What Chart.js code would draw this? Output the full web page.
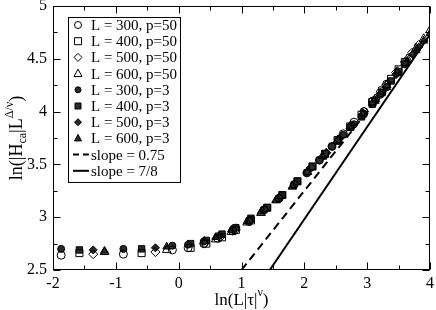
<!DOCTYPE html>
<html>
<head>
<meta charset="utf-8">
<script src="https://cdn.jsdelivr.net/npm/chart.js@4.4.0/dist/chart.umd.min.js"></script>
<style>
  html, body { margin: 0; padding: 0; background: #fff; }
</style>
</head>
<body>
<canvas id="scaling" width="436" height="310"></canvas>
<script>
// x = ln(L|tau|^nu) for each system size (same tau grid for both p)
const xL300 = [-1.87, -0.88, -0.10, 0.15, 0.40, 0.62, 0.86, 1.12, 1.36, 1.60, 1.84, 2.04, 2.24, 2.44, 2.62, 2.79, 2.95, 3.09, 3.21, 3.31];
const xL400 = [-1.58, -0.59, 0.19, 0.44, 0.69, 0.91, 1.15, 1.41, 1.65, 1.89, 2.13, 2.33, 2.53, 2.73, 2.91, 3.08, 3.24, 3.38, 3.50, 3.60];
const xL500 = [-1.36, -0.37, 0.41, 0.66, 0.91, 1.13, 1.37, 1.63, 1.87, 2.11, 2.35, 2.55, 2.75, 2.95, 3.13, 3.30, 3.46, 3.60, 3.72, 3.82];
const xL600 = [-1.18, -0.19, 0.59, 0.84, 1.09, 1.31, 1.55, 1.81, 2.05, 2.29, 2.53, 2.73, 2.93, 3.13, 3.31, 3.48, 3.64, 3.78, 3.90, 4.00];

// y = ln(|H_ca| L^(Delta/nu))
const yL300p50 = [2.64, 2.65, 2.69, 2.71, 2.75, 2.80, 2.87, 2.96, 3.07, 3.18, 3.31, 3.42, 3.54, 3.67, 3.79, 3.90, 4.00, 4.10, 4.18, 4.26];
const yL400p50 = [2.66, 2.66, 2.71, 2.75, 2.81, 2.88, 2.97, 3.09, 3.21, 3.34, 3.48, 3.60, 3.73, 3.86, 3.97, 4.09, 4.20, 4.31, 4.40, 4.47];
const yL500p50 = [2.65, 2.67, 2.75, 2.81, 2.88, 2.96, 3.07, 3.20, 3.33, 3.47, 3.61, 3.74, 3.87, 4.00, 4.12, 4.25, 4.37, 4.47, 4.56, 4.63];
const yL600p50 = [2.67, 2.69, 2.79, 2.86, 2.95, 3.04, 3.16, 3.29, 3.43, 3.58, 3.73, 3.86, 3.98, 4.12, 4.25, 4.38, 4.50, 4.60, 4.69, 4.77];
const yL300p3 = [2.70, 2.70, 2.73, 2.74, 2.77, 2.82, 2.88, 2.97, 3.07, 3.18, 3.31, 3.42, 3.54, 3.67, 3.78, 3.88, 3.98, 4.07, 4.16, 4.23];
const yL400p3 = [2.69, 2.70, 2.75, 2.78, 2.84, 2.90, 2.99, 3.09, 3.21, 3.34, 3.48, 3.60, 3.72, 3.85, 3.95, 4.07, 4.18, 4.29, 4.38, 4.45];
const yL500p3 = [2.69, 2.71, 2.78, 2.83, 2.90, 2.98, 3.08, 3.20, 3.33, 3.47, 3.61, 3.74, 3.86, 3.98, 4.11, 4.23, 4.35, 4.45, 4.54, 4.61];
const yL600p3 = [2.68, 2.72, 2.81, 2.88, 2.96, 3.05, 3.16, 3.29, 3.43, 3.57, 3.72, 3.85, 3.97, 4.10, 4.23, 4.36, 4.48, 4.58, 4.67, 4.74];

// reference lines (end points)
const slope075X = [1.00, 4.00];
const slope075Y = [2.50, 4.75];
const slope78X = [1.45, 4.00];
const slope78Y = [2.50, 4.73];

const xTicks = [-2, -1, 0, 1, 2, 3, 4];
const yTicks = [2.5, 3, 3.5, 4, 4.5, 5];

const SERIF = "'Liberation Serif', 'DejaVu Serif', serif";

function pts(xs, ys) {
    return xs.map((x, i) => ({ x: x, y: ys[i] }));
}

function marker(style, filled, r) {
    return {
        type: 'scatter',
        pointStyle: style,
        pointRadius: r,
        pointHoverRadius: r,
        borderColor: '#000',
        backgroundColor: filled ? '#2a2a2a' : 'rgba(0,0,0,0)',
        pointBorderWidth: 1,
        showLine: false
    };
}

const datasets = [
    Object.assign({ label: 'L = 300, p=50', data: pts(xL300, yL300p50) }, marker('circle', false, 4)),
    Object.assign({ label: 'L = 400, p=50', data: pts(xL400, yL400p50) }, marker('rect', false, 5)),
    Object.assign({ label: 'L = 500, p=50', data: pts(xL500, yL500p50) }, marker('rectRot', false, 4.5)),
    Object.assign({ label: 'L = 600, p=50', data: pts(xL600, yL600p50) }, marker('triangle', false, 5)),
    Object.assign({ label: 'L = 300, p=3', data: pts(xL300, yL300p3) }, marker('circle', true, 3.5)),
    Object.assign({ label: 'L = 400, p=3', data: pts(xL400, yL400p3) }, marker('rect', true, 4.5)),
    Object.assign({ label: 'L = 500, p=3', data: pts(xL500, yL500p3) }, marker('rectRot', true, 4)),
    Object.assign({ label: 'L = 600, p=3', data: pts(xL600, yL600p3) }, marker('triangle', true, 4.5)),
    {
        type: 'line', label: 'slope = 0.75', data: pts(slope075X, slope075Y),
        borderColor: '#000', borderWidth: 2, borderDash: [8, 5], pointRadius: 0, fill: false
    },
    {
        type: 'line', label: 'slope = 7/8', data: pts(slope78X, slope78Y),
        borderColor: '#000', borderWidth: 2, pointRadius: 0, fill: false
    }
];

// draw one legend marker
function drawMark(ctx, ds, x, y) {
    ctx.save();
    ctx.strokeStyle = '#000';
    ctx.fillStyle = '#000';
    ctx.lineWidth = 1;
    if (ds.type === 'line') {
        ctx.lineWidth = 2;
        ctx.setLineDash(ds.borderDash ? [6, 4] : []);
        ctx.beginPath();
        ctx.moveTo(x - 5, y);
        ctx.lineTo(x + 11, y);
        ctx.stroke();
        ctx.restore();
        return;
    }
    const filled = ds.backgroundColor !== 'rgba(0,0,0,0)';
    const r = filled ? 3 : 3.5;
    ctx.fillStyle = ds.backgroundColor;
    ctx.beginPath();
    if (ds.pointStyle === 'circle') {
        ctx.arc(x, y, r, 0, Math.PI * 2);
    } else if (ds.pointStyle === 'rect') {
        ctx.rect(x - r, y - r, 2 * r, 2 * r);
    } else if (ds.pointStyle === 'rectRot') {
        ctx.moveTo(x, y - r - 0.5); ctx.lineTo(x + r + 0.5, y);
        ctx.lineTo(x, y + r + 0.5); ctx.lineTo(x - r - 0.5, y);
        ctx.closePath();
    } else {
        ctx.moveTo(x, y - r - 1); ctx.lineTo(x + r + 0.5, y + r - 0.5);
        ctx.lineTo(x - r - 0.5, y + r - 0.5);
        ctx.closePath();
    }
    ctx.fill();
    ctx.stroke();
    ctx.restore();
}

// text with sub/superscripts
function richText(ctx, parts, x, y) {
    let total = 0;
    parts.forEach(p => {
        ctx.font = p.size + 'px ' + SERIF;
        p.w = ctx.measureText(p.t).width;
        total += p.w;
    });
    let cx = x - total / 2;
    parts.forEach(p => {
        ctx.font = p.size + 'px ' + SERIF;
        ctx.fillText(p.t, cx, y + (p.dy || 0));
        cx += p.w;
    });
}

const framePlugin = {
    id: 'framePlugin',
    afterDraw(chart) {
        const ctx = chart.ctx;
        const a = chart.chartArea;
        const xs = chart.scales.x;
        const ys = chart.scales.y;
        ctx.save();
        ctx.strokeStyle = '#000';
        ctx.lineWidth = 1;
        const L = Math.round(a.left) + 0.5, R = Math.round(a.right) - 0.5;
        const T = Math.round(a.top) + 0.5, B = Math.round(a.bottom) - 0.5;
        ctx.strokeRect(L, T, R - L, B - T);
        ctx.beginPath();
        // x ticks every 0.5, major on integers
        for (let i = 0; i <= 12; i++) {
            const v = xs.min + i * 0.5;
            const px = Math.round(xs.getPixelForValue(v)) + 0.5;
            const len = i % 2 === 0 ? 7 : 4;
            ctx.moveTo(px, B); ctx.lineTo(px, B - len);
            ctx.moveTo(px, T); ctx.lineTo(px, T + len);
        }
        // y ticks every 0.25, major every 0.5
        for (let i = 0; i <= 10; i++) {
            const v = ys.min + i * 0.25;
            const py = Math.round(ys.getPixelForValue(v)) + 0.5;
            const len = i % 2 === 0 ? 7 : 4;
            ctx.moveTo(L, py); ctx.lineTo(L + len, py);
            ctx.moveTo(R, py); ctx.lineTo(R - len, py);
        }
        ctx.stroke();

        // axis titles
        ctx.fillStyle = '#000';
        ctx.textBaseline = 'alphabetic';
        richText(ctx, [
            { t: 'ln(L|\u03c4|', size: 17 },
            { t: '\u03bd', size: 12, dy: -9 },
            { t: ')', size: 17 }
        ], (a.left + a.right) / 2, 305);

        ctx.save();
        ctx.translate(22, (a.top + a.bottom) / 2);
        ctx.rotate(-Math.PI / 2);
        richText(ctx, [
            { t: 'ln(|H', size: 18 },
            { t: 'ca', size: 12, dy: 4 },
            { t: '|L', size: 18 },
            { t: '\u0394/\u03bd', size: 12, dy: -9 },
            { t: ')', size: 18 }
        ], 0, 0);
        ctx.restore();

        // legend box
        const bx = 68, by = 17, bw = 112, bh = 165;
        ctx.fillStyle = '#fff';
        ctx.fillRect(bx, by, bw, bh);
        ctx.strokeRect(bx + 0.5, by + 0.5, bw, bh);
        ctx.font = '15px ' + SERIF;
        ctx.textBaseline = 'middle';
        chart.data.datasets.forEach((ds, i) => {
            const ry = 25 + i * 16.2;
            drawMark(ctx, ds, 78, ry);
            ctx.fillStyle = '#000';
            ctx.fillText(ds.label, 91, ry + 1);
        });
        ctx.restore();
    }
};

const ctx = document.getElementById('scaling').getContext('2d');
const scalingChart = new Chart(ctx, {
    type: 'scatter',
    data: { datasets: datasets },
    options: {
        responsive: false,
        devicePixelRatio: 1,
        animation: false,
        events: [],
        layout: { padding: { left: 0, top: 5, right: 4, bottom: 0 } },
        plugins: {
            legend: { display: false },
            tooltip: { enabled: false }
        },
        scales: {
            x: {
                type: 'linear',
                min: -2,
                max: 4,
                afterBuildTicks: (s) => { s.ticks = xTicks.map(v => ({ value: v })); },
                ticks: {
                    color: '#000',
                    font: { family: SERIF, size: 16 },
                    padding: 4,
                    maxRotation: 0,
                    autoSkip: false,
                    callback: (v) => String(v)
                },
                grid: { drawOnChartArea: false, drawTicks: false },
                border: { display: false },
                afterFit: (s) => { s.height = 40; s.paddingLeft = 0; s.paddingRight = 0; }
            },
            y: {
                type: 'linear',
                min: 2.5,
                max: 5,
                afterBuildTicks: (s) => { s.ticks = yTicks.map(v => ({ value: v })); },
                ticks: {
                    color: '#000',
                    font: { family: SERIF, size: 16 },
                    padding: 6,
                    autoSkip: false,
                    callback: (v) => String(v)
                },
                grid: { drawOnChartArea: false, drawTicks: false },
                border: { display: false },
                afterFit: (s) => { s.width = 53; s.paddingTop = 0; s.paddingBottom = 0; }
            }
        }
    },
    plugins: [framePlugin]
});
</script>
</body>
</html>
